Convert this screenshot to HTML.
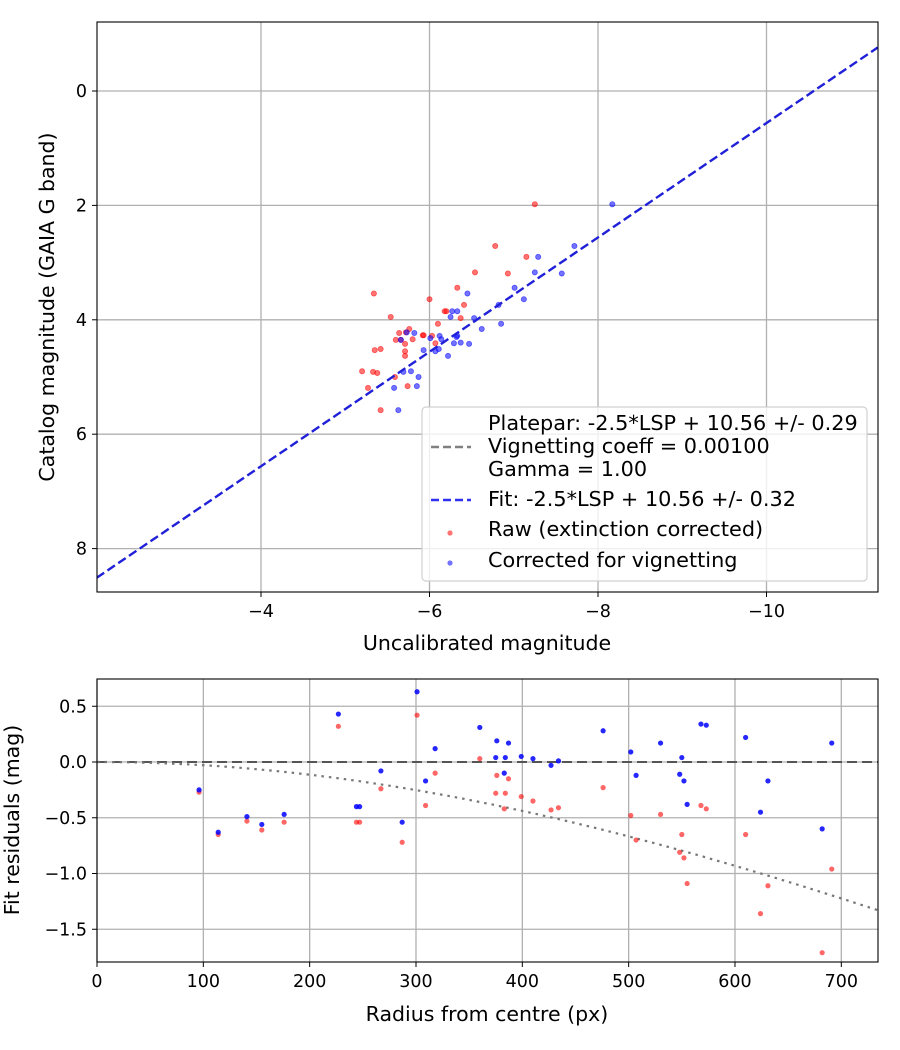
<!DOCTYPE html>
<html><head><meta charset="utf-8"><style>
body{margin:0;background:#fff;}
svg{display:block;font-family:"DejaVu Sans","Liberation Sans",sans-serif;}
</style></head><body>
<svg id="chart" width="900" height="1050" viewBox="0 0 900 1050" xmlns="http://www.w3.org/2000/svg"></svg>
<script>
// ---- Top panel data ----
const rawX=[-7.25,-6.78,-7.15,-6.54,-6.93,-5.34,-6.33,-6.00,-6.41,-6.18,-6.20,-5.54,-6.37,-6.10,-5.76,-5.64,-5.72,-5.60,-5.80,-5.92,-5.93,-6.03,-5.66,-5.71,-6.07,-5.71,-5.71,-5.35,-5.42,-5.20,-5.33,-5.38,-5.59,-5.27,-5.74,-5.42];
const rawY=[1.98,2.71,2.90,3.17,3.19,3.54,3.44,3.64,3.74,3.85,3.85,3.95,3.97,4.07,4.16,4.23,4.22,4.35,4.34,4.27,4.27,4.28,4.35,4.42,4.41,4.55,4.63,4.53,4.51,4.90,4.91,4.93,5.00,5.19,5.16,5.58];
const corX=[-8.17,-7.72,-7.29,-7.25,-7.57,-7.01,-7.12,-6.45,-6.82,-6.27,-6.33,-6.53,-6.25,-6.85,-6.62,-5.73,-5.82,-6.12,-6.01,-6.33,-5.66,-6.32,-6.14,-6.29,-6.37,-6.47,-5.93,-6.07,-6.11,-6.22,-5.69,-5.78,-5.87,-5.58,-5.85,-5.63];
const corY=[1.98,2.71,2.90,3.17,3.19,3.44,3.64,3.54,3.74,3.85,3.85,3.97,3.95,4.07,4.16,4.22,4.23,4.28,4.32,4.28,4.35,4.30,4.34,4.41,4.40,4.42,4.53,4.55,4.51,4.63,4.91,4.90,5.00,5.19,5.16,5.58];
const fitOffset=10.56;
const topXTicks=[-4,-6,-8,-10];
const topYTicks=[0,2,4,6,8];
// ---- Bottom panel data ----
const radius=[96,114,141,155,176,227,244,247,267,287,301,309,318,360,375,376,383,384,387,399,410,427,434,476,502,507,530,548,550,552,555,568,573,610,624,631,682,691];
const resCorr=[-0.25,-0.63,-0.49,-0.56,-0.47,0.43,-0.40,-0.40,-0.08,-0.54,0.63,-0.17,0.12,0.31,0.04,0.19,-0.10,0.04,0.17,0.05,0.03,-0.03,0.01,0.28,0.09,-0.12,0.17,-0.11,0.04,-0.17,-0.38,0.34,0.33,0.22,-0.45,-0.17,-0.60,0.17];
const resRaw=[-0.27,-0.65,-0.53,-0.61,-0.54,0.32,-0.54,-0.54,-0.24,-0.72,0.42,-0.39,-0.10,0.03,-0.28,-0.12,-0.42,-0.28,-0.15,-0.31,-0.35,-0.43,-0.41,-0.23,-0.48,-0.70,-0.47,-0.81,-0.65,-0.86,-1.09,-0.39,-0.42,-0.65,-1.36,-1.11,-1.71,-0.96];
const botXTicks=[0,100,200,300,400,500,600,700];
const botYTicks=[0.5,0.0,-0.5,-1.0,-1.5];
const botYLabels=["0.5","0.0","−0.5","−1.0","−1.5"];
const vigK=0.000815;

const NS="http://www.w3.org/2000/svg";
const svg=document.getElementById('chart');
function mk(tag,attrs,parent){const e=document.createElementNS(NS,tag);for(const k in attrs)e.setAttribute(k,attrs[k]);(parent||svg).appendChild(e);return e;}
function txt(s,x,y,anchor,size,parent,rot){const e=mk('text',{x:x,y:y,'text-anchor':anchor,'font-size':size,fill:'#000'},parent);if(rot)e.setAttribute('transform',rot);e.textContent=s;return e;}

const T={l:97,r:878,t:22,b:592};
const tx=v=>261+(-4-v)*84.25;
const ty=v=>91+v*57.2;
const B={l:97,r:878,t:679,b:962};
const bx=v=>97+v*1.0633;
const by=v=>762-v*111.5;

// ---- Top panel ----
const gTop=mk('g',{});


const clipT=mk('clipPath',{id:'ct'});mk('rect',{x:T.l,y:T.t,width:T.r-T.l,height:T.b-T.t},clipT);
topXTicks.forEach(v=>{const x=tx(v);
 const g=mk('line',{x1:x,x2:x,y1:T.t,y2:T.b,stroke:'#b0b0b0','stroke-width':1.3},gTop);
 
 mk('line',{x1:x,x2:x,y1:T.b,y2:T.b+5,stroke:'#000'},gTop);
 const t=txt('−'+Math.abs(v),x,T.b+25,'middle',17.5,gTop);
 });
topYTicks.forEach(v=>{const y=ty(v);
 const g=mk('line',{x1:T.l,x2:T.r,y1:y,y2:y,stroke:'#b0b0b0','stroke-width':1.3},gTop);
 
 mk('line',{x1:T.l-5,x2:T.l,y1:y,y2:y,stroke:'#000'},gTop);
 const t=txt(String(v),T.l-10,y+6,'end',17.5,gTop);
 });
const pts=mk('g',{'clip-path':'url(#ct)'},gTop);
rawX.forEach((v,i)=>{const c=mk('circle',{cx:tx(v),cy:ty(rawY[i]),r:2.6,fill:'#ff0000','fill-opacity':0.55,stroke:'#ff0000','stroke-opacity':0.55,'stroke-width':0.8},pts);
 });
corX.forEach((v,i)=>{const c=mk('circle',{cx:tx(v),cy:ty(corY[i]),r:2.6,fill:'#0000ff','fill-opacity':0.55,stroke:'#0000ff','stroke-opacity':0.55,'stroke-width':0.8},pts);
 });
const xa=-2.05,xb=-11.32;
const fit=mk('line',{x1:tx(xa),y1:ty(xa+fitOffset),x2:tx(xb),y2:ty(xb+fitOffset),stroke:'#2020d8','stroke-width':2.4,'stroke-dasharray':'9,4'},pts);

mk('rect',{x:T.l,y:T.t,width:T.r-T.l,height:T.b-T.t,fill:'none',stroke:'#000','stroke-width':1.1},gTop);
const xl=txt('Uncalibrated magnitude',487,650,'middle',20.5,gTop);

const yl=txt('Catalog magnitude (GAIA G band)',54,307,'middle',20.5,gTop,'rotate(-90 54 307)');


// Legend
const lg=mk('g',{},gTop);

mk('rect',{x:422,y:407,width:445,height:174,rx:4,fill:'#fff','fill-opacity':0.8,stroke:'#d0d0d0','stroke-width':1.2},lg);
const L=[['Platepar: -2.5*LSP + 10.56 +/- 0.29',430],['Vignetting coeff = 0.00100',453],['Gamma = 1.00',476],['Fit: -2.5*LSP + 10.56 +/- 0.32',506],['Raw (extinction corrected)',536],['Corrected for vignetting',567]];
L.forEach(a=>{const t=txt(a[0],488,a[1],'start',20.8,lg);});
mk('line',{x1:431,x2:471,y1:447,y2:447,stroke:'#808080','stroke-width':2.4,'stroke-dasharray':'8,4'},lg);
mk('line',{x1:431,x2:471,y1:500,y2:500,stroke:'#3030f0','stroke-width':2.4,'stroke-dasharray':'8,4'},lg);
mk('circle',{cx:450,cy:533,r:2.6,fill:'#ff0000','fill-opacity':0.55},lg);
mk('circle',{cx:450,cy:563,r:2.6,fill:'#0000ff','fill-opacity':0.55},lg);

// ---- Bottom panel ----
const gB=mk('g',{});


const clipB=mk('clipPath',{id:'cb'});mk('rect',{x:B.l,y:B.t,width:B.r-B.l,height:B.b-B.t},clipB);
botXTicks.forEach(v=>{const x=bx(v);
 const g=mk('line',{x1:x,x2:x,y1:B.t,y2:B.b,stroke:'#b0b0b0','stroke-width':1.3},gB);
 
 mk('line',{x1:x,x2:x,y1:B.b,y2:B.b+5,stroke:'#000'},gB);
 const t=txt(String(v),x,B.b+25,'middle',17.5,gB);
 });
botYTicks.forEach((v,i)=>{const y=by(v);
 const g=mk('line',{x1:B.l,x2:B.r,y1:y,y2:y,stroke:'#b0b0b0','stroke-width':1.3},gB);
 
 mk('line',{x1:B.l-5,x2:B.l,y1:y,y2:y,stroke:'#000'},gB);
 const t=txt(botYLabels[i],B.l-10,y+6,'end',17.5,gB);
 });
const bp=mk('g',{'clip-path':'url(#cb)'},gB);
const zl=mk('line',{x1:B.l,x2:B.r,y1:by(0),y2:by(0),stroke:'#555','stroke-width':2,'stroke-dasharray':'10,5'},bp);

let d='';for(let r=0;r<=740;r+=5){const x=vigK*r;const v=-10*Math.log10(1+x*x);d+=(r?'L':'M')+bx(r).toFixed(1)+','+by(v).toFixed(1);}
const vc=mk('path',{d:d,fill:'none',stroke:'#777','stroke-width':2.2,'stroke-dasharray':'2.5,5'},bp);

radius.forEach((r,i)=>{const c=mk('circle',{cx:bx(r),cy:by(resRaw[i]),r:2.6,fill:'#ff0000','fill-opacity':0.6},bp);
 });
radius.forEach((r,i)=>{const c=mk('circle',{cx:bx(r),cy:by(resCorr[i]),r:2.6,fill:'#0000ff','fill-opacity':0.85},bp);
 });
mk('rect',{x:B.l,y:B.t,width:B.r-B.l,height:B.b-B.t,fill:'none',stroke:'#000','stroke-width':1.1},gB);
const bxl=txt('Radius from centre (px)',487,1021,'middle',20.5,gB);

const byl=txt('Fit residuals (mag)',19,820,'middle',20.5,gB,'rotate(-90 19 820)');

</script>
</body></html>
